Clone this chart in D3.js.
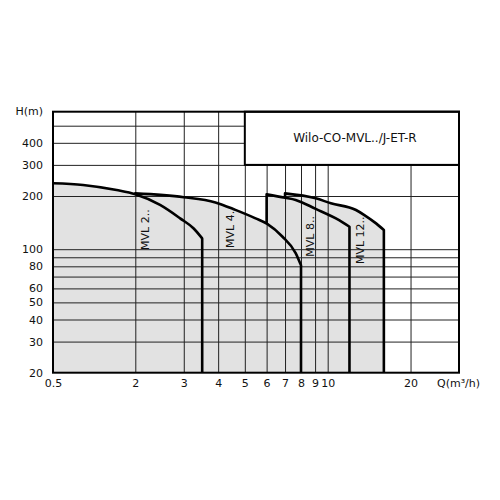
<!DOCTYPE html>
<html>
<head>
<meta charset="utf-8">
<script src="https://cdn.jsdelivr.net/npm/d3@7"></script>
<style>
  html, body { margin: 0; padding: 0; background: #fff; }
  svg { display: block; font-family: "DejaVu Sans", "Noto Sans", sans-serif; }
</style>
</head>
<body>
<svg id="chart" width="500" height="500"></svg>
<script>
// ---- data ----
const seriesNames = ["MVL 2..", "MVL 4..", "MVL 8..", "MVL 12.."];
const mvl2 = [[0.5,236],[0.83,231],[1.46,216],[2.0,204.5],[2.46,178],[2.91,149.5],[3.26,131],[3.44,119],[3.5,115]];
const mvl4 = [[2.0,207],[3.0,197],[3.91,184],[4.62,167],[5.47,149.5],[6.03,139],[6.84,118],[7.65,95],[8.0,81]];
const mvl8 = [[6.0,204.4],[7.0,195.6],[7.65,190],[9.05,169],[11.0,146],[12.0,134]];
const mvl12 = [[7.0,207],[9.05,194],[10.27,182],[12.67,166.6],[13.59,156],[14.99,140],[16.0,128.4]];
const joinH = [null, 204.5, 139.5, 195.6];          // H where the left edge meets the previous curve
const labelQ = [2.18, 4.43, 8.68, 13.2];
const labelH = [99, 101.6, 90.7, 82.4];
const xTickValues = [0.5, 2, 3, 4, 5, 6, 7, 8, 9, 10, 20];
const xGridValues = [2, 3, 4, 5, 6, 7, 8, 9, 10, 20];
const yTickValues = [20, 30, 40, 50, 60, 80, 100, 200, 300, 400];
const yGridValues = [30, 40, 50, 60, 70, 80, 90, 100, 200, 300, 400, 500];
const xDomain = [0.5, 2, 30];
const yDomain = [20, 600];
const legendText = "Wilo-CO-MVL../J-ET-R";
const legendQ = [5, 30];
const legendH = [300, 600];
const curves = [mvl2, mvl4, mvl8, mvl12];

// ---- layout ----
const L = 53, R = 459, T = 111.7, B = 372.7;
const FONT = "'DejaVu Sans', 'Noto Sans', sans-serif";
const x = d3.scaleLog().domain(xDomain).range([L, 135.3, R]);
const y = d3.scaleLog().domain(yDomain).range([B, T]);

const svg = d3.select("#chart");
const line = d3.line().x(d => x(d[0])).y(d => y(d[1])).curve(d3.curveMonotoneX);

// fills
const fillG = svg.append("g");
curves.forEach(c => {
  const s = line(c);
  const q0 = c[0][0], q1 = c[c.length - 1][0];
  fillG.append("path")
    .attr("d", `M${x(q0)},${y(20)}L` + s.slice(1) + `L${x(q1)},${y(20)}Z`)
    .attr("fill", "#e2e2e2").attr("stroke", "none");
});

// gridlines
const gridX = d3.axisBottom(x).tickValues(xGridValues).tickSize(-(B - T)).tickFormat("");
svg.append("g").attr("transform", `translate(0,${B})`).call(gridX)
  .call(g => g.select(".domain").remove())
  .call(g => g.selectAll("line").attr("stroke", "#222").attr("stroke-width", 1));
const gridY = d3.axisLeft(y).tickValues(yGridValues).tickSize(-(R - L)).tickFormat("");
svg.append("g").attr("transform", `translate(${L},0)`).call(gridY)
  .call(g => g.select(".domain").remove())
  .call(g => g.selectAll("line").attr("stroke", "#222").attr("stroke-width", 1));

// curve outlines
const lineG = svg.append("g");
curves.forEach((c, i) => {
  const s = line(c);
  const q0 = c[0][0], q1 = c[c.length - 1][0];
  let d = s;
  if (joinH[i] !== null) d = `M${x(q0)},${y(joinH[i])}L` + s.slice(1);
  d += `L${x(q1)},${y(20)}`;
  lineG.append("path").attr("d", d)
    .attr("fill", "none").attr("stroke", "#000").attr("stroke-width", 2.6)
    .attr("stroke-linejoin", "round");
});

// series labels
seriesNames.forEach((n, i) => {
  const px = x(labelQ[i]), py = y(labelH[i]);
  svg.append("text").text(n)
    .attr("transform", `translate(${px},${py}) rotate(-90)`)
    .attr("dominant-baseline", "central")
    .attr("font-family", FONT).attr("font-size", 11).attr("fill", "#111");
});

// legend box
svg.append("rect")
  .attr("x", x(legendQ[0])).attr("y", y(legendH[1]))
  .attr("width", x(legendQ[1]) - x(legendQ[0]))
  .attr("height", y(legendH[0]) - y(legendH[1]))
  .attr("fill", "#fff").attr("stroke", "#000").attr("stroke-width", 2);
svg.append("text").text(legendText)
  .attr("x", (x(legendQ[0]) + x(legendQ[1])) / 2 + 3)
  .attr("y", (y(legendH[0]) + y(legendH[1])) / 2)
  .attr("text-anchor", "middle").attr("dominant-baseline", "central")
  .attr("font-family", FONT).attr("font-size", 12).attr("fill", "#111");

// frame
svg.append("rect").attr("x", L).attr("y", T).attr("width", R - L).attr("height", B - T)
  .attr("fill", "none").attr("stroke", "#000").attr("stroke-width", 2);

// tick labels
const xAxis = d3.axisBottom(x).tickValues(xTickValues).tickSize(0).tickPadding(6)
  .tickFormat(d => String(d));
svg.append("g").attr("transform", `translate(0,${B + 1})`).call(xAxis)
  .call(g => g.select(".domain").remove())
  .call(g => g.selectAll("text").attr("font-size", 11).attr("fill", "#111")
    .attr("font-family", FONT));
const yAxis = d3.axisLeft(y).tickValues(yTickValues).tickSize(0).tickPadding(10)
  .tickFormat(d => String(d));
svg.append("g").attr("transform", `translate(${L},0)`).call(yAxis)
  .call(g => g.select(".domain").remove())
  .call(g => g.selectAll("text").attr("font-size", 11).attr("fill", "#111")
    .attr("font-family", FONT));

// axis titles
svg.append("text").text("H(m)").attr("x", 43).attr("y", T)
  .attr("text-anchor", "end").attr("dominant-baseline", "central")
  .attr("font-family", FONT).attr("font-size", 11).attr("fill", "#111");
svg.append("text").text("Q(m³/h)").attr("x", 437).attr("y", 383.5)
  .attr("text-anchor", "start").attr("dominant-baseline", "central")
  .attr("font-family", FONT).attr("font-size", 11).attr("fill", "#111");
</script>
</body>
</html>
